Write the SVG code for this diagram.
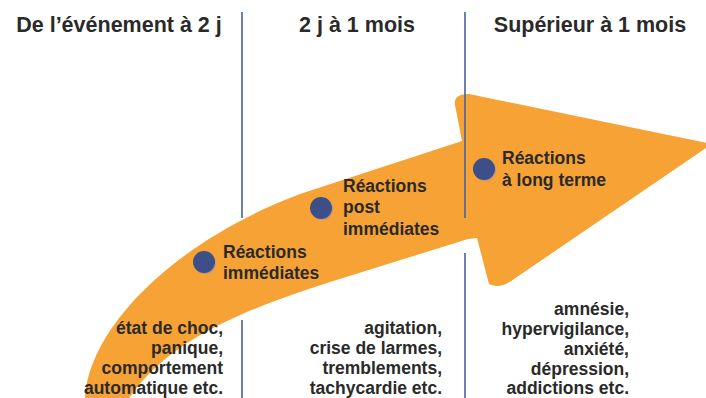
<svg xmlns="http://www.w3.org/2000/svg" width="706" height="398" viewBox="0 0 706 398">
<style>
.hdr{font-family:"Liberation Sans",Arial,sans-serif;font-weight:bold;font-size:21.5px;fill:#2a2a2a;text-anchor:middle}
.lbl{font-family:"Liberation Sans",Arial,sans-serif;font-weight:bold;font-size:17.5px;fill:#2a2a2a}
.desc{font-family:"Liberation Sans",Arial,sans-serif;font-weight:bold;font-size:17.5px;fill:#2a2a2a;text-anchor:end}
.sep{stroke:#4361a3;stroke-width:1.6;fill:none}
.dot{fill:#3d4f88}
.dotsh{fill:#a28fb3;opacity:.7}
</style>
<rect width="706" height="398" fill="#ffffff"/>
<g id="arrow">
<path fill="#F7A234" d="M 85 400 C 86 335 165 245 300 194 L 462 141 L 455 105 Q 453 94 469 94 L 712 144 L 514 279 Q 500 290 489 284 L 477 238 L 468 239 L 330 282 C 260 305 170 335 128 400 Z"/>
</g>
<g id="connectors">
<line class="sep" x1="242" y1="12" x2="242" y2="218"/>
<line class="sep" x1="242" y1="320" x2="242" y2="398"/>
<line class="sep" x1="465" y1="12" x2="465" y2="218"/>
<line class="sep" x1="465" y1="253" x2="465" y2="398"/>
</g>
<g id="headers">
<text class="hdr" x="119" y="32">De l’événement à 2 j</text>
<text class="hdr" x="357" y="32">2 j à 1 mois</text>
<text class="hdr" x="590" y="32">Supérieur à 1 mois</text>
</g>
<g id="node-immediates">
<circle class="dotsh" cx="205" cy="263" r="11"/>
<circle class="dot" cx="204" cy="262" r="11"/>
<text class="lbl" x="223" y="258">Réactions</text>
<text class="lbl" x="223" y="279">immédiates</text>
</g>
<g id="node-post">
<circle class="dotsh" cx="322" cy="209" r="11"/>
<circle class="dot" cx="321" cy="208" r="11"/>
<text class="lbl" x="343" y="192">Réactions</text>
<text class="lbl" x="343" y="213">post</text>
<text class="lbl" x="343" y="235">immédiates</text>
</g>
<g id="node-long">
<circle class="dotsh" cx="485" cy="170" r="11"/>
<circle class="dot" cx="484" cy="169" r="11"/>
<text class="lbl" x="502" y="164">Réactions</text>
<text class="lbl" x="502" y="186">à long terme</text>
</g>
<g id="desc-1">
<text class="desc" x="223" y="334">état de choc,</text>
<text class="desc" x="223" y="354">panique,</text>
<text class="desc" x="223" y="374">comportement</text>
<text class="desc" x="223" y="394">automatique etc.</text>
</g>
<g id="desc-2">
<text class="desc" x="442" y="334">agitation,</text>
<text class="desc" x="442" y="354">crise de larmes,</text>
<text class="desc" x="442" y="374">tremblements,</text>
<text class="desc" x="442" y="394">tachycardie etc.</text>
</g>
<g id="desc-3">
<text class="desc" x="629" y="315">amnésie,</text>
<text class="desc" x="629" y="335">hypervigilance,</text>
<text class="desc" x="629" y="355">anxiété,</text>
<text class="desc" x="629" y="375">dépression,</text>
<text class="desc" x="629" y="394">addictions etc.</text>
</g>
</svg>
